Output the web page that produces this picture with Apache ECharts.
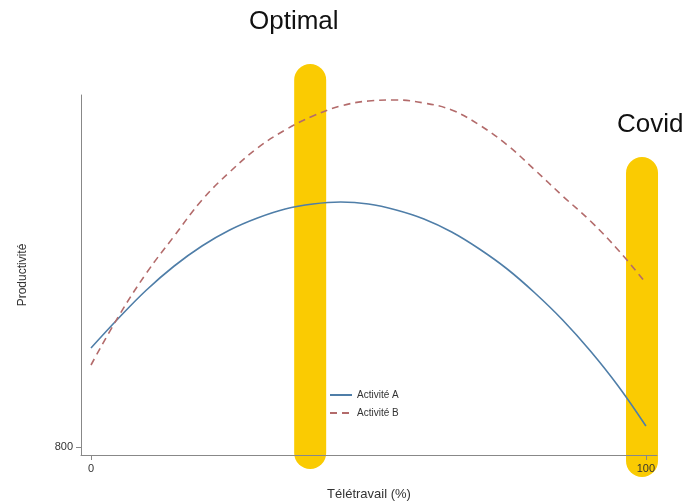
<!DOCTYPE html>
<html>
<head>
<meta charset="utf-8">
<title>Productivité et télétravail</title>
<script src="https://cdn.jsdelivr.net/npm/echarts@6/dist/echarts.min.js"></script>
<style>
  html, body { margin: 0; padding: 0; background: #fff; }
  #chart { width: 689px; height: 504px; }
</style>
</head>
<body>
<div id="chart"></div>
<script>
// télétravail (%)
var teletravail = [0, 5, 10, 15, 20, 25, 30, 35, 40, 45, 50, 55, 60, 65, 70, 75, 80, 85, 90, 95, 100];
// productivité
var activiteA = [998, 1058, 1114, 1162, 1202, 1234, 1258, 1276, 1286, 1290, 1286, 1274, 1256, 1230, 1196, 1156, 1108, 1054, 992, 922, 842];
var activiteB = [964, 1062, 1148, 1222, 1294, 1350, 1398, 1434, 1462, 1482, 1492, 1494, 1488, 1474, 1444, 1404, 1354, 1302, 1252, 1194, 1128];
// barres jaunes : position x, haut, bas
var bandesX = [39.5, 99.3];
var bandesHaut = [1566, 1380];
var bandesBas = [756, 740];
var bandesNoms = ["Optimal", "Covid"];
var ticksX = [0, 100];
var ticksY = [800];

function paires(xs, ys) {
  return xs.map(function (x, i) { return [x, ys[i]]; });
}

var chart = echarts.init(document.getElementById("chart"));

chart.setOption({
  animation: false,
  textStyle: { fontFamily: "Liberation Sans, Arial, sans-serif" },
  grid: { left: 81, right: 32, top: 95, bottom: 49, outerBoundsMode: "none" },
  legend: {
    data: ["Activité A", "Activité B"],
    orient: "vertical",
    left: 324,
    top: 385,
    itemWidth: 22,
    itemHeight: 10,
    itemGap: 8,
    itemStyle: { opacity: 0 },
    textStyle: { fontSize: 10, color: "#333" }
  },
  xAxis: {
    type: "value",
    min: -1.8,
    max: 102,
    z: 5,
    name: "Télétravail (%)",
    nameLocation: "middle",
    nameGap: 33,
    nameTextStyle: { fontSize: 13, color: "#333" },
    axisLine: { onZero: false, lineStyle: { color: "#888" } },
    axisTick: { show: true, length: 5, customValues: ticksX, lineStyle: { color: "#888" } },
    axisLabel: { customValues: ticksX, fontSize: 11, color: "#333", margin: 8 },
    splitLine: { show: false }
  },
  yAxis: {
    type: "value",
    min: 784,
    max: 1504,
    name: "Productivité",
    nameLocation: "middle",
    nameGap: 52,
    nameTextStyle: { fontSize: 12, color: "#333" },
    axisLine: { show: true, onZero: false, lineStyle: { color: "#888" } },
    axisTick: { show: true, length: 5, customValues: ticksY, lineStyle: { color: "#888" } },
    axisLabel: { customValues: ticksY, fontSize: 11, color: "#333", margin: 8 },
    splitLine: { show: false }
  },
  series: [
    {
      name: "bandes",
      type: "custom",
      z: 1,
      clip: false,
      silent: true,
      encode: { x: 0, y: [1, 2] },
      data: bandesX.map(function (x, i) { return [x, bandesHaut[i], bandesBas[i]]; }),
      renderItem: function (params, api) {
        var haut = api.coord([api.value(0), api.value(1)]);
        var bas = api.coord([api.value(0), api.value(2)]);
        return {
          type: "rect",
          shape: { x: haut[0] - 16, y: haut[1], width: 32, height: bas[1] - haut[1], r: 16 },
          style: { fill: "#FACB02" }
        };
      }
    },
    {
      name: "Activité A",
      type: "line",
      z: 3,
      smooth: 0.4,
      symbol: "none",
      data: paires(teletravail, activiteA),
      lineStyle: { color: "#4f7ea8", width: 1.6 },
      itemStyle: { color: "#4f7ea8" }
    },
    {
      name: "Activité B",
      type: "line",
      z: 3,
      smooth: 0.4,
      symbol: "none",
      data: paires(teletravail, activiteB),
      lineStyle: { color: "#b36b6b", width: 1.6, type: [7, 5] },
      itemStyle: { color: "#b36b6b" }
    }
  ],
  graphic: [
    {
      type: "text",
      left: 249,
      top: 9,
      style: { text: bandesNoms[0], fontSize: 26, fill: "#111", fontFamily: "Liberation Sans, Arial, sans-serif" }
    },
    {
      type: "text",
      left: 617,
      top: 112,
      style: { text: bandesNoms[1], fontSize: 26, fill: "#111", fontFamily: "Liberation Sans, Arial, sans-serif" }
    }
  ]
});
</script>
</body>
</html>
